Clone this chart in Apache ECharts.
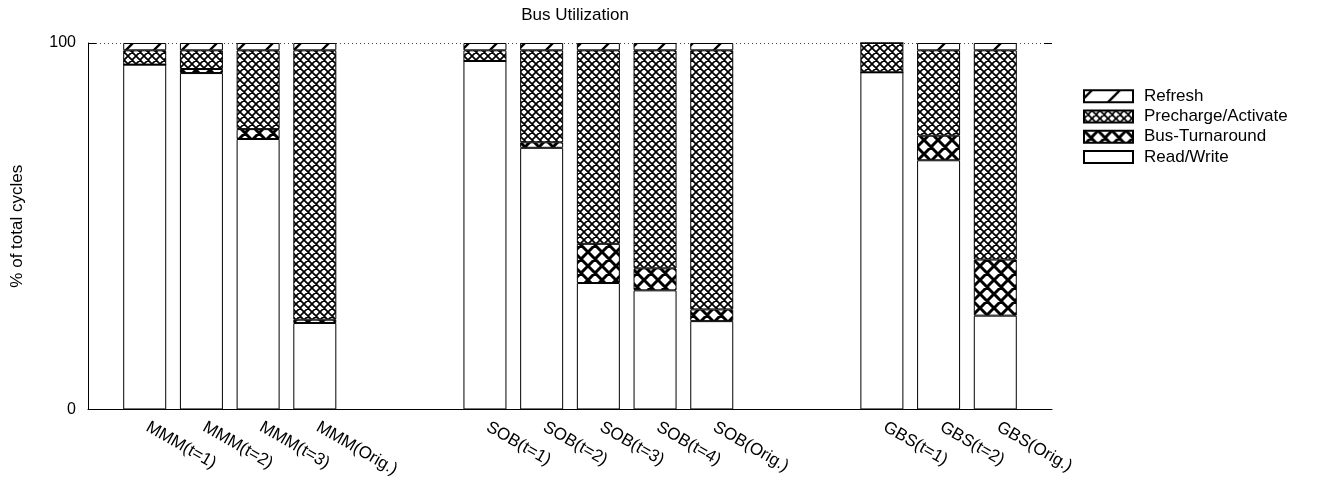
<!DOCTYPE html>
<html>
<head>
<meta charset="utf-8">
<script src="https://cdn.jsdelivr.net/npm/echarts@6/dist/echarts.min.js"></script>
<style>
html,body{margin:0;padding:0;background:#fff;}
#chart{width:1320px;height:480px;}
</style>
</head>
<body>
<div id="chart"></div>
<script>
// ---- data ----
const groupMMM = ['MMM(t=1)', 'MMM(t=2)', 'MMM(t=3)', 'MMM(Orig.)'];
const groupSOB = ['SOB(t=1)', 'SOB(t=2)', 'SOB(t=3)', 'SOB(t=4)', 'SOB(Orig.)'];
const groupGBS = ['GBS(t=1)', 'GBS(t=2)', 'GBS(Orig.)'];

const readWriteMMM = [94.1, 91.8, 73.8, 23.6];
const busTurnMMM   = [0.0, 1.1, 2.7, 0.9];
const prechargeMMM = [3.9, 5.1, 21.5, 73.5];
const refreshMMM   = [2.0, 2.0, 2.0, 2.0];

const readWriteSOB = [95.1, 71.4, 34.5, 32.5, 24.1];
const busTurnSOB   = [0.0, 1.5, 10.7, 6.0, 3.2];
const prechargeSOB = [2.9, 25.1, 52.8, 59.5, 70.7];
const refreshSOB   = [2.0, 2.0, 2.0, 2.0, 2.0];

const readWriteGBS = [92.0, 68.0, 25.6];
const busTurnGBS   = [0.0, 6.7, 15.3];
const prechargeGBS = [8.0, 23.3, 57.1];
const refreshGBS   = [0.0, 2.0, 2.0];

const yTicks = [0, 100];
const seriesNames = ['Read/Write', 'Bus-Turnaround', 'Precharge/Activate', 'Refresh'];
const legendOrder = ['Refresh', 'Precharge/Activate', 'Bus-Turnaround', 'Read/Write'];

// ---- build padded category axis (blank slots separate the groups) ----
function pad(a, b, c) {
  return [null].concat(a, [null, null], b, [null, null], c, [null]);
}
const categories = pad(groupMMM, groupSOB, groupGBS).map(v => v === null ? '' : v);
const readWrite = pad(readWriteMMM, readWriteSOB, readWriteGBS);
const busTurn   = pad(busTurnMMM, busTurnSOB, busTurnGBS);
const precharge = pad(prechargeMMM, prechargeSOB, prechargeGBS);
const refresh   = pad(refreshMMM, refreshSOB, refreshGBS);

// ---- fill patterns ----
function crossPattern(period, lw) {
  const c = document.createElement('canvas');
  c.width = period; c.height = period;
  const g = c.getContext('2d');
  g.fillStyle = '#fff'; g.fillRect(0, 0, period, period);
  g.strokeStyle = '#000'; g.lineWidth = lw;
  g.beginPath();
  for (let k = -1; k <= 1; k++) {
    g.moveTo(k * period, 0); g.lineTo(k * period + period, period);
    g.moveTo(k * period, period); g.lineTo(k * period + period, 0);
  }
  g.stroke();
  return { image: c, repeat: 'repeat' };
}
function slashPattern(period, lw, shift) {
  const c = document.createElement('canvas');
  c.width = period; c.height = period;
  const g = c.getContext('2d');
  g.fillStyle = '#fff'; g.fillRect(0, 0, period, period);
  g.strokeStyle = '#000'; g.lineWidth = lw;
  g.beginPath();
  for (let k = -2; k <= 1; k++) {
    g.moveTo(k * period + shift, period); g.lineTo(k * period + shift + period, 0);
  }
  g.stroke();
  return { image: c, repeat: 'repeat' };
}
const fills = {
  'Read/Write': '#fff',
  'Bus-Turnaround': crossPattern(14, 3),
  'Precharge/Activate': crossPattern(8, 1.7),
  'Refresh': slashPattern(28, 2.4, 8)
};
const seriesData = {
  'Read/Write': readWrite,
  'Bus-Turnaround': busTurn,
  'Precharge/Activate': precharge,
  'Refresh': refresh
};

const FONT = '"Liberation Sans", Arial, sans-serif';
const chart = echarts.init(document.getElementById('chart'), null, { renderer: 'canvas' });

const option = {
  animation: false,
  backgroundColor: '#fff',
  title: {
    text: 'Bus Utilization',
    left: 570, top: 2, textAlign: 'center',
    textStyle: { fontFamily: FONT, fontSize: 17, fontWeight: 'normal', color: '#000' }
  },
  legend: {
    orient: 'vertical',
    left: 1078, top: 81,
    data: legendOrder,
    icon: 'rect',
    itemWidth: 49, itemHeight: 12, itemGap: 0,
    textStyle: { fontFamily: FONT, fontSize: 17, color: '#000', lineHeight: 20.3, padding: [0, 0, 0, 6] }
  },
  grid: { left: 88, right: 268, top: 43, bottom: 70, containLabel: false },
  xAxis: {
    type: 'category',
    data: categories,
    boundaryGap: false,
    axisLine: { lineStyle: { color: '#000', width: 1 } },
    axisTick: { show: false },
    axisLabel: {
      interval: 0, rotate: -30, margin: 5,
      align: 'left', verticalAlign: 'top',
      padding: [0, 0, 0, 8],
      fontFamily: FONT, fontSize: 17, color: '#000'
    },
    splitLine: { show: false }
  },
  yAxis: [{
    type: 'value',
    min: yTicks[0], max: yTicks[yTicks.length - 1], interval: 100,
    name: '% of total cycles',
    nameLocation: 'middle', nameGap: 62,
    nameTextStyle: { fontFamily: FONT, fontSize: 17, color: '#000' },
    axisLine: { show: true, lineStyle: { color: '#000', width: 1 } },
    axisTick: { show: true, inside: true, length: 8, lineStyle: { color: '#000' } },
    axisLabel: { margin: 12, fontFamily: FONT, fontSize: 16, color: '#000' },
    splitLine: { show: true, lineStyle: { color: '#444', type: [1, 3], width: 1 } }
  }, {
    type: 'value', position: 'right',
    min: yTicks[0], max: yTicks[yTicks.length - 1], interval: 100,
    axisLine: { show: false },
    axisTick: { show: true, inside: true, length: 8, lineStyle: { color: '#000' } },
    axisLabel: { show: false },
    splitLine: { show: false }
  }],
  series: seriesNames.map(name => ({
    name: name,
    type: 'bar',
    stack: 'total',
    barWidth: 43,
    yAxisIndex: 0,
    data: seriesData[name],
    itemStyle: { color: fills[name], borderColor: '#000', borderWidth: 1 },
    emphasis: { disabled: true }
  }))
};
chart.setOption(option);
</script>
</body>
</html>
